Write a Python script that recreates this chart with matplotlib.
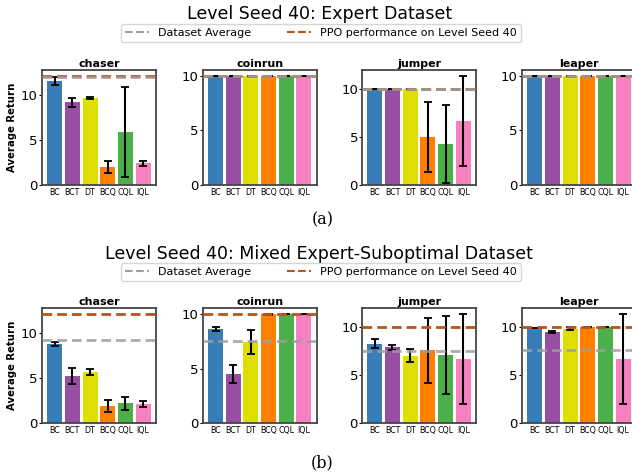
import numpy as np
import matplotlib.pyplot as plt

algos = ["BC", "BCT", "DT", "BCQ", "CQL", "IQL"]
colors = ["#377eb8", "#984ea3", "#dede00", "#ff7f00", "#4daf4a", "#f781bf"]
games = ["chaser", "coinrun", "jumper", "leaper"]

# expert dataset (a)
expert_mean = {
    "chaser": [11.6, 9.2, 9.7, 2.0, 5.9, 2.4],
    "coinrun": [10.0, 10.0, 10.0, 10.0, 10.0, 10.0],
    "jumper": [10.0, 10.0, 10.0, 5.0, 4.3, 6.7],
    "leaper": [10.0, 10.0, 10.0, 10.0, 10.0, 10.0],
}
expert_err = {
    "chaser": [0.4, 0.5, 0.15, 0.65, 5.0, 0.3],
    "coinrun": [0.0, 0.0, 0.0, 0.0, 0.0, 0.0],
    "jumper": [0.0, 0.0, 0.0, 3.65, 4.05, 4.7],
    "leaper": [0.0, 0.0, 0.0, 0.0, 0.0, 0.0],
}
expert_avg = {"chaser": 12.05, "coinrun": 10.0, "jumper": 10.0, "leaper": 10.0}

# mixed expert-suboptimal dataset (b)
mixed_mean = {
    "chaser": [8.8, 5.25, 5.7, 1.9, 2.2, 2.1],
    "coinrun": [8.6, 4.5, 7.45, 10.0, 10.0, 10.0],
    "jumper": [8.25, 7.9, 7.0, 7.55, 7.1, 6.7],
    "leaper": [9.93, 9.5, 9.8, 10.0, 10.0, 6.7],
}
mixed_err = {
    "chaser": [0.2, 0.9, 0.35, 0.7, 0.7, 0.3],
    "coinrun": [0.2, 0.8, 1.1, 0.05, 0.0, 0.0],
    "jumper": [0.45, 0.25, 0.7, 3.35, 4.05, 4.7],
    "leaper": [0.0, 0.1, 0.15, 0.0, 0.0, 4.7],
}
mixed_avg = {"chaser": 9.2, "coinrun": 7.5, "jumper": 7.5, "leaper": 7.55}

ppo = {"chaser": 12.2, "coinrun": 10.0, "jumper": 10.0, "leaper": 10.0}

PPO_COLOR = "#b5551d"
AVG_COLOR = "#9e9e9e"

fig = plt.figure(figsize=(6.32, 4.75), dpi=100)

lefts = [0.0665, 0.321, 0.573, 0.826]
W, H = 0.180, 0.242


def draw_row(bottom, means, errs, avgs, title, title_y, leg_y, caption, cap_y):
    for i, g in enumerate(games):
        ax = fig.add_axes([lefts[i], bottom, W, H])
        x = np.arange(len(algos))
        m = np.array(means[g])
        e = np.array(errs[g])
        ax.bar(x, m, width=0.85, color=colors, zorder=2)
        ax.errorbar(x, m, yerr=e, fmt="none", ecolor="black", elinewidth=1.5,
                    capsize=3, capthick=1.3, zorder=3)
        ax.axhline(ppo[g], color=PPO_COLOR, ls=(0, (3.5, 1.8)), lw=2, zorder=4)
        ax.axhline(avgs[g], color=AVG_COLOR, ls=(0, (3.5, 1.8)), lw=2, alpha=0.85, zorder=5)
        top = max((m + e).max(), ppo[g], avgs[g]) * 1.05
        ax.set_ylim(0, top)
        ax.set_xticks(x)
        ax.set_xticklabels(algos, fontsize=5.7)
        ax.set_yticks([0, 5, 10])
        ax.tick_params(axis="y", labelsize=9.5, length=2, pad=1)
        ax.tick_params(axis="x", length=0, pad=2)
        ax.set_title(g, fontsize=8, fontweight="bold", pad=2)
        for s in ax.spines.values():
            s.set_color("#444444")
            s.set_linewidth(1.3)
        if i == 0:
            ax.set_ylabel("Average Return", fontsize=7.3, fontweight="bold", labelpad=3)
    fig.text(0.505, title_y, title, ha="center", va="center", fontsize=12.5)
    handles = [
        plt.Line2D([], [], color=AVG_COLOR, ls="--", lw=1.5),
        plt.Line2D([], [], color=PPO_COLOR, ls="--", lw=1.5),
    ]
    fig.legend(handles, ["Dataset Average", "PPO performance on Level Seed 40"],
               loc="center", bbox_to_anchor=(0.508, leg_y), ncol=2, fontsize=8,
               frameon=True, handlelength=2.2, columnspacing=3.2, borderpad=0.35)
    fig.text(0.51, cap_y, caption, ha="center", va="center", fontsize=11.5,
             family="DejaVu Serif")


draw_row(0.6105, expert_mean, expert_err, expert_avg,
         "Level Seed 40: Expert Dataset", 0.97, 0.93, "(a)", 0.537)
draw_row(0.1095, mixed_mean, mixed_err, mixed_avg,
         "Level Seed 40: Mixed Expert-Suboptimal Dataset", 0.465, 0.427, "(b)", 0.025)

fig.savefig("out.png", dpi=100)
